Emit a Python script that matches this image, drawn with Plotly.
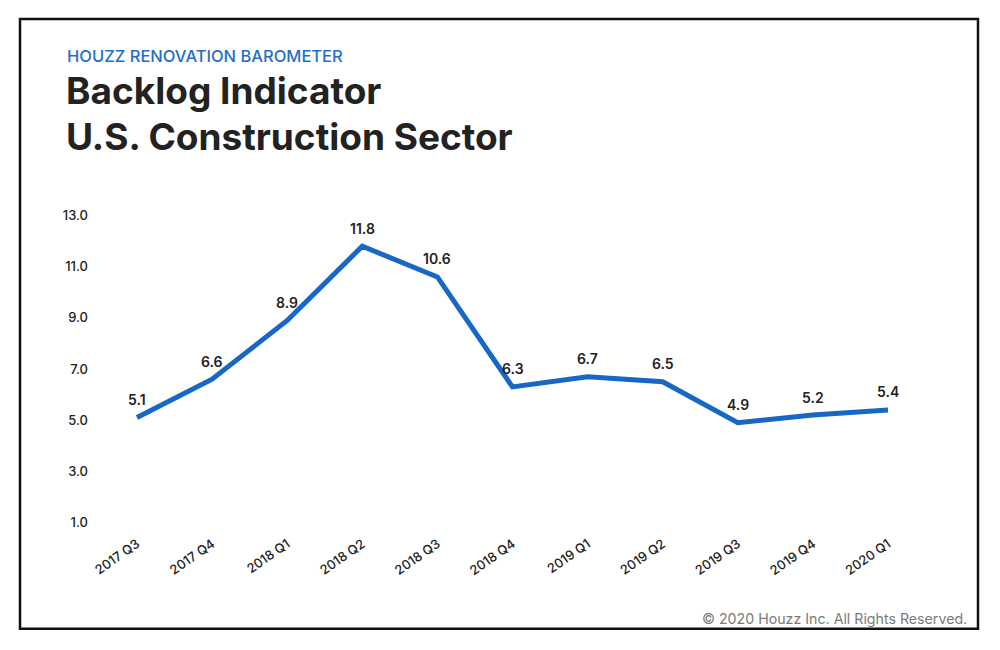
import plotly.graph_objects as go

quarters = ["2017 Q3", "2017 Q4", "2018 Q1", "2018 Q2", "2018 Q3", "2018 Q4",
            "2019 Q1", "2019 Q2", "2019 Q3", "2019 Q4", "2020 Q1"]
backlog = [5.1, 6.6, 8.9, 11.8, 10.6, 6.3, 6.7, 6.5, 4.9, 5.2, 5.4]
y_ticks = [1, 3, 5, 7, 9, 11, 13]
y_tick_labels = ["1.0", "3.0", "5.0", "7.0", "9.0", "11.0", "13.0"]

OFF = 8  # page offset of the plot div
W, H = 1000 - OFF, 650 - OFF
# plot area in screen pixels
SL, SR, ST, SB = 100, 930, 213.45, 524.55
L, T = SL - OFF, ST - OFF
R, B = W - (SR - OFF), H - (SB - OFF)
PW, PH = W - L - R, H - T - B

def px(x):
    return (x - OFF - L) / PW

def py(y):
    return (H - B - (y - OFF)) / PH

STEP = 75.1
X0 = 137

LINE_BLUE = "#1767c4"
FONT = "Inter"

fig = go.Figure()
fig.add_trace(go.Scatter(
    x=quarters, y=backlog, mode="lines",
    line=dict(color=LINE_BLUE, width=5),
    hoverinfo="x+y", showlegend=False,
))

annotations = []
for q, v in zip(quarters, backlog):
    annotations.append(dict(
        x=q, y=v, xref="x", yref="y", text=f"{v:.1f}", showarrow=False,
        yshift=18, yanchor="middle", xanchor="center",
        font=dict(family=FONT, size=14, color="#222222", weight=600),
    ))

annotations += [
    dict(x=px(65), y=py(57), xref="paper", yref="paper", xanchor="left", yanchor="middle",
         text="HOUZZ RENOVATION BAROMETER", showarrow=False,
         font=dict(family=FONT, size=16.5, color="#1f6fc6", weight=500)),
    dict(x=px(64), y=py(91), xref="paper", yref="paper", xanchor="left", yanchor="middle",
         text="Backlog Indicator", showarrow=False,
         font=dict(family=FONT, size=37, color="#222222", weight="bold")),
    dict(x=px(64), y=py(137), xref="paper", yref="paper", xanchor="left", yanchor="middle",
         text="U.S. Construction Sector", showarrow=False,
         font=dict(family=FONT, size=37, color="#222222", weight="bold")),
    dict(x=px(969), y=py(618), xref="paper", yref="paper", xanchor="right", yanchor="middle",
         text="© 2020 Houzz Inc. All Rights Reserved.", showarrow=False,
         font=dict(family=FONT, size=14.2, color="#7a7a7a")),
]

fig.update_layout(
    width=W, height=H,
    margin=dict(l=L, r=R, t=T, b=B, pad=0),
    paper_bgcolor="white", plot_bgcolor="white",
    annotations=annotations,
    shapes=[dict(type="rect", xref="paper", yref="paper",
                 x0=px(20), x1=px(978), y0=py(628), y1=py(20),
                 line=dict(color="#111111", width=2.5), layer="below")],
    xaxis=dict(
        type="category", categoryorder="array", categoryarray=quarters,
        range=[-(X0 - SL) / STEP, (SR - X0) / STEP],
        showgrid=False, zeroline=False, showline=False, ticks="",
        tickangle=-35, ticklabelstandoff=8,
        tickfont=dict(family=FONT, size=13, color="#222222", weight=500),
    ),
    yaxis=dict(
        range=[0.9, 13.1], tickvals=y_ticks, ticktext=y_tick_labels,
        showgrid=False, zeroline=False, showline=False, ticks="",
        ticklabelstandoff=11,
        tickfont=dict(family=FONT, size=13, color="#222222", weight=500),
    ),
)

fig.write_html("out.html")
